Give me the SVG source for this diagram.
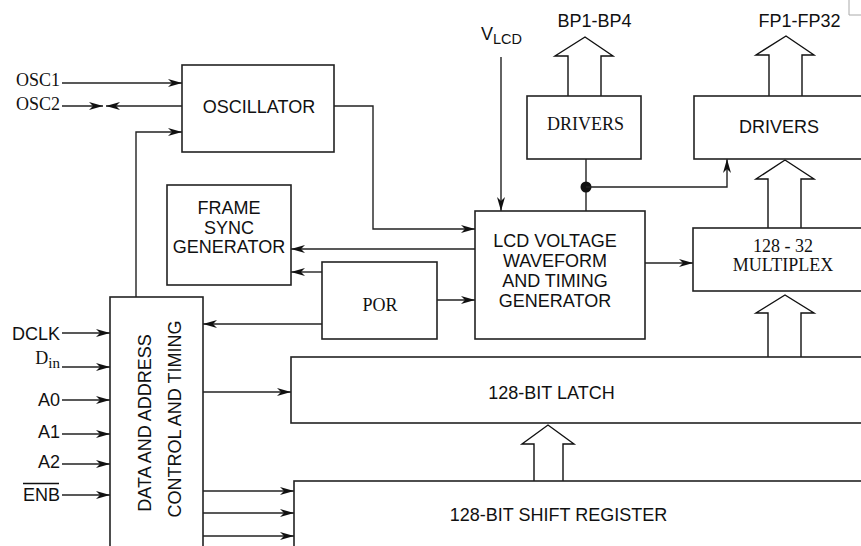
<svg xmlns="http://www.w3.org/2000/svg" width="861" height="546" viewBox="0 0 861 546">
<defs>
<marker id="ah" viewBox="0 0 14 8" refX="14" refY="4" markerWidth="14" markerHeight="8" markerUnits="userSpaceOnUse" orient="auto">
<path d="M0,0 L14,4 L0,8 L4,4 z" fill="#111"/>
</marker>
<style>
.box{fill:#fff;stroke:#222;stroke-width:1.6}
.ln{fill:none;stroke:#222;stroke-width:1.4}
.ar{fill:none;stroke:#222;stroke-width:1.4;marker-end:url(#ah)}
.hol{fill:#fff;stroke:#111;stroke-width:1.4}
.s{font-family:"Liberation Sans",Arial,sans-serif;font-size:18px;fill:#111}
.r{font-family:"Liberation Serif","Times New Roman",serif;font-size:18px;fill:#111}
.m{text-anchor:middle}
.e{text-anchor:end}
</style>
</defs>
<rect width="861" height="546" fill="#fff"/>
<path d="M849,0 V15 H861" fill="none" stroke="#aaa" stroke-width="1"/>

<g id="connectors">
<line class="ar" x1="62" y1="83" x2="182" y2="83"/>
<line class="ar" x1="62" y1="106" x2="103" y2="106"/>
<line class="ar" x1="182" y1="106" x2="106" y2="106"/>
<path class="ar" d="M136,297 V132 H182"/>
<path class="ar" d="M334,106 H373 V229 H475"/>
<line class="ar" x1="475" y1="249" x2="291" y2="249"/>
<line class="ar" x1="322" y1="272" x2="291" y2="272"/>
<line class="ar" x1="437" y1="300" x2="475" y2="300"/>
<line class="ar" x1="322" y1="324" x2="203" y2="324"/>
<line class="ar" x1="501" y1="57" x2="501" y2="211"/>
<line class="ln" x1="586" y1="159" x2="586" y2="211"/>
<circle cx="586" cy="187" r="5.5" fill="#111"/>
<path class="ar" d="M586,187 H727 V159"/>
<line class="ar" x1="645" y1="263" x2="693" y2="263"/>
<line class="ar" x1="62" y1="333" x2="110" y2="333"/>
<line class="ar" x1="62" y1="367" x2="110" y2="367"/>
<line class="ar" x1="62" y1="400" x2="110" y2="400"/>
<line class="ar" x1="62" y1="434" x2="110" y2="434"/>
<line class="ar" x1="62" y1="464" x2="110" y2="464"/>
<line class="ar" x1="62" y1="495" x2="110" y2="495"/>
<line class="ar" x1="203" y1="392" x2="291" y2="392"/>
<line class="ar" x1="203" y1="491" x2="294" y2="491"/>
<line class="ar" x1="203" y1="513" x2="294" y2="513"/>
<line class="ar" x1="203" y1="536" x2="294" y2="536"/>
<path class="hol" d="M568,96 V56 H555 L585,37 L613,56 H601 V96"/>
<path class="hol" d="M769,96 V55 H756 L786,36 L814,55 H802 V96"/>
<path class="hol" d="M768,228 V179 H756 L785,160 L814,179 H801 V228"/>
<path class="hol" d="M768,357 V313 H756 L785,295 L814,313 H801 V357"/>
<path class="hol" d="M534,481 V444 H522 L548,425 L574,444 H563 V481"/>
</g>

<g id="labels">
<text class="r e" x="60" y="85.5">OSC1</text>
<text class="r e" x="60" y="109.5">OSC2</text>
<text class="s e" x="60" y="339.5">DCLK</text>
<text class="r e" x="60" y="364">D<tspan font-size="15" dy="4">in</tspan></text>
<text class="s e" x="60" y="405.5">A0</text>
<text class="s e" x="60" y="437.5">A1</text>
<text class="s e" x="60" y="468">A2</text>
<text class="s e" x="60" y="501">ENB</text>
<line x1="23" y1="483.5" x2="59" y2="483.5" stroke="#111" stroke-width="1.3"/>
<text class="s" x="481" y="39.5">V<tspan font-size="14.5" dy="4.5">LCD</tspan></text>
<text class="s m" x="594.5" y="26.5">BP1-BP4</text>
<text class="s m" x="799.5" y="26.5">FP1-FP32</text>
</g>

<g id="oscillator">
<rect class="box" x="182" y="65" width="152" height="87"/>
<text class="s m" x="259" y="113">OSCILLATOR</text>
</g>

<g id="frame-sync">
<rect class="box" x="167" y="185" width="124" height="100"/>
<text class="s m" x="229" y="213.5">FRAME</text>
<text class="s m" x="229" y="233.5">SYNC</text>
<text class="s m" x="229" y="253">GENERATOR</text>
</g>

<g id="por">
<rect class="box" x="322" y="262" width="115" height="77"/>
<text class="r m" x="380" y="311">POR</text>
</g>

<g id="lcd-voltage">
<rect class="box" x="475" y="211" width="170" height="128"/>
<text class="s m" x="555" y="247">LCD VOLTAGE</text>
<text class="s m" x="555" y="267">WAVEFORM</text>
<text class="s m" x="555" y="287">AND TIMING</text>
<text class="s m" x="555" y="307">GENERATOR</text>
</g>

<g id="bp-drivers">
<rect class="box" x="527" y="96" width="114" height="63"/>
<text class="r m" x="585.5" y="129.5">DRIVERS</text>
</g>

<g id="fp-drivers">
<rect class="box" x="694" y="96" width="190" height="63"/>
<text class="s m" x="779" y="133">DRIVERS</text>
</g>

<g id="multiplex">
<rect class="box" x="693" y="228" width="190" height="63"/>
<text class="r m" x="783" y="251.5">128 - 32</text>
<text class="r m" x="783" y="271">MULTIPLEX</text>
</g>

<g id="data-address">
<rect class="box" x="110" y="297" width="93" height="270"/>
<text class="s m" transform="translate(151,423) rotate(-90)">DATA AND ADDRESS</text>
<text class="s m" transform="translate(181,419) rotate(-90)">CONTROL AND TIMING</text>
</g>

<g id="latch">
<rect class="box" x="291" y="357" width="590" height="66"/>
<text class="s m" x="551.5" y="398.5" font-size="16.5">128-BIT LATCH</text>
</g>

<g id="shift-register">
<rect class="box" x="294" y="481" width="590" height="90"/>
<text class="s m" x="558.5" y="521" font-size="16.5">128-BIT SHIFT REGISTER</text>
</g>
</svg>
